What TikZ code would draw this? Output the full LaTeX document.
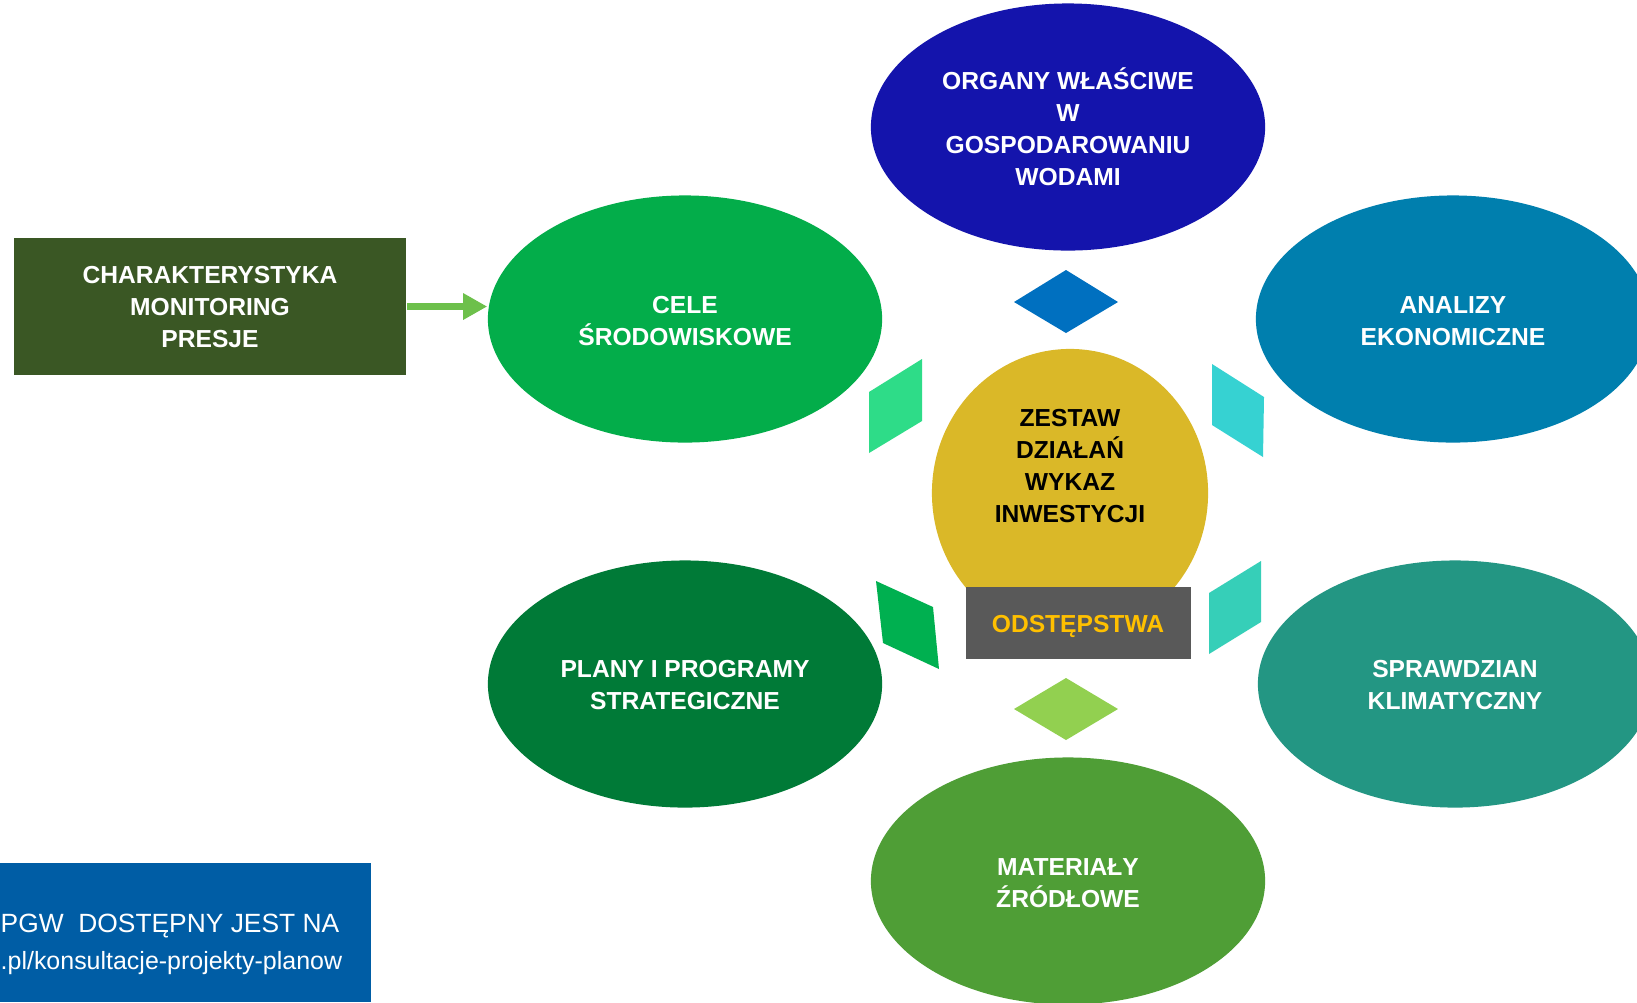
\documentclass[tikz,border=0pt]{standalone}
\usepackage{fontspec}
\setmainfont{Liberation Sans}
\usetikzlibrary{shapes.geometric,arrows.meta}
\definecolor{cOrg}{HTML}{1414AC}
\definecolor{cCele}{HTML}{03AD4A}
\definecolor{cAna}{HTML}{007FAE}
\definecolor{cSpr}{HTML}{239683}
\definecolor{cPla}{HTML}{007A37}
\definecolor{cMat}{HTML}{4F9E36}
\definecolor{cCen}{HTML}{DAB828}
\definecolor{cGray}{HTML}{595959}
\definecolor{cGold}{HTML}{FFC000}
\definecolor{cChr}{HTML}{3A5724}
\definecolor{cArr}{HTML}{6DC04B}
\definecolor{cBlue}{HTML}{005DA5}
\definecolor{dTop}{HTML}{0070C0}
\definecolor{dBot}{HTML}{92D050}
\definecolor{pLU}{HTML}{2EDC88}
\definecolor{pRU}{HTML}{36D2D2}
\definecolor{pLL}{HTML}{00B050}
\definecolor{pRL}{HTML}{36CFB8}
\tikzset{
  oval/.style={ellipse, minimum width=3.94cm, minimum height=2.47cm, inner sep=0pt,
    text=white, align=center, font=\fontsize{7}{9.1}\selectfont\bfseries},
  lbl/.style={align=center, font=\fontsize{7}{9.1}\selectfont\bfseries}
}
\begin{document}
\begin{tikzpicture}[x=0.01cm,y=-0.01cm]
\useasboundingbox (0,0) rectangle (1637,1002);
\clip (0,0) rectangle (1637,1002);
\fill[white] (0,0) rectangle (1637,1002);
% ellipses
\node[oval, fill=cOrg] (org) at (1068,127) {ORGANY WŁAŚCIWE\\W\\GOSPODAROWANIU\\WODAMI};
\node[oval, fill=cCele] (cele) at (685,319) {};
\node[lbl, text=white] (celetxt) at (685,321) {CELE\\ŚRODOWISKOWE};
\node[oval, fill=cAna] (ana) at (1453,319) {};
\node[lbl, text=white] (anatxt) at (1453,321) {ANALIZY\\EKONOMICZNE};
\node[oval, fill=cPla] (pla) at (685,684) {};
\node[lbl, text=white] (platxt) at (685,685) {PLANY I PROGRAMY\\STRATEGICZNE};
\node[oval, fill=cSpr] (spr) at (1455,684) {};
\node[lbl, text=white] (sprtxt) at (1455,685) {SPRAWDZIAN\\KLIMATYCZNY};
\node[oval, fill=cMat] (mat) at (1068,881) {};
\node[lbl, text=white] (mattxt) at (1068,883) {MATERIAŁY\\ŹRÓDŁOWE};
% centre
\node[ellipse, fill=cCen, minimum width=2.76cm, minimum height=2.88cm, inner sep=0pt] (cen) at (1070,493) {};
\node[lbl, text=black] (centxt) at (1070,466) {ZESTAW\\DZIAŁAŃ\\WYKAZ\\INWESTYCJI};
\node[fill=cGray, minimum width=2.25cm, minimum height=0.72cm, inner sep=0pt] (ods) at (1078.5,623) {};
\node[text=cGold, inner sep=0pt, font=\fontsize{7}{9.1}\selectfont\bfseries] (odstxt) at (1078,626) {ODSTĘPSTWA};
% small shapes
\fill[dTop] (1014,302) -- (1066,270) -- (1118,302) -- (1066,333) -- cycle;
\fill[dBot] (1014,709) -- (1066,678) -- (1118,709) -- (1066,740) -- cycle;
\fill[pLU] (869,392) -- (922,359) -- (922,421) -- (869,453) -- cycle;
\fill[pRU] (1212,364) -- (1264,397) -- (1263,457) -- (1212,425) -- cycle;
\fill[pLL] (876,581) -- (933,607) -- (939,669) -- (883,643) -- cycle;
\fill[pRL] (1209,593) -- (1261,561) -- (1261,622) -- (1209,654) -- cycle;
% left box and arrow
\node[fill=cChr, minimum width=3.92cm, minimum height=1.37cm, inner sep=0pt] (chr) at (210,306.5) {};
\node[lbl, text=white] (chrtxt) at (210,307.5) {CHARAKTERYSTYKA\\MONITORING\\PRESJE};
\draw[cArr, line width=0.07cm, -{Triangle[length=0.24cm,width=0.25cm]}] (chr.east) -- (chr.east -| cele.west);
% bottom-left blue box
\fill[cBlue] (0,863) rectangle (371,1002);
\node[anchor=base west, text=white, inner sep=0pt, font=\fontsize{7.5}{9}\selectfont] (url1) at (0,932) {PGW\ \ DOSTĘPNY JEST NA};
\node[anchor=base west, text=white, inner sep=0pt, font=\fontsize{7.1}{9}\selectfont] (url2) at (0,969) {.pl/konsultacje-projekty-planow};
\end{tikzpicture}
\end{document}
